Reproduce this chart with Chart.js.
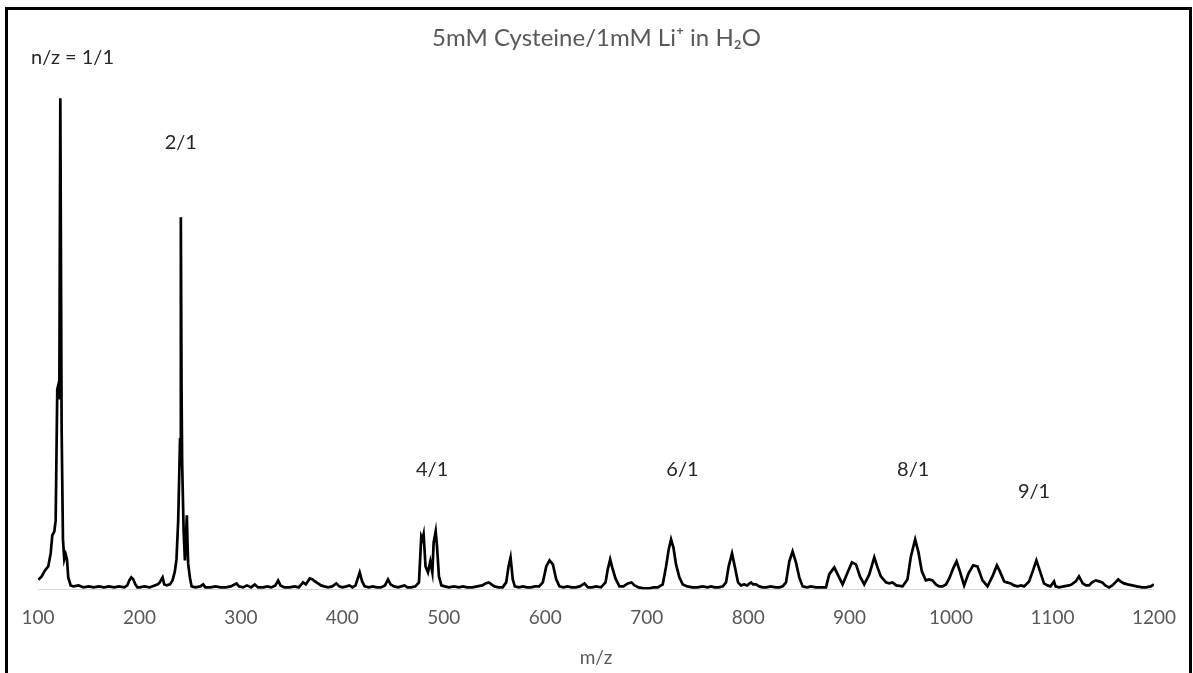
<!DOCTYPE html>
<html>
<head>
<meta charset="utf-8">
<script src="https://cdn.jsdelivr.net/npm/chart.js@4.4.1/dist/chart.umd.min.js"></script>
<style>
  html, body { margin: 0; padding: 0; background: #fff; overflow: hidden; }
  #wrap { position: relative; width: 1193px; height: 673px; }
  #frame { position: absolute; left: 5px; top: 7px; width: 1187px; height: 700px; box-sizing: border-box;
           border: 3px solid #000; border-bottom: none; pointer-events: none; }
</style>
</head>
<body>
<div id="wrap">
  <canvas id="spectrum" width="1193" height="673"></canvas>
  <div id="frame"></div>
</div>
<script>
// m/z values and intensities (a.u.), 10 per line
const mz = [
  100.3, 103.6, 106.9, 110.1, 112.5, 114.1, 116.1, 117.4, 119.0, 120.4,
  121.0, 122.0, 123.3, 124.6, 125.9, 127.3, 128.6, 129.8, 132.2, 135,
  140, 145, 150, 155, 160, 165, 170, 175, 180, 185,
  188, 190, 192, 194, 196, 198, 200, 205, 210, 215,
  218, 220, 222.8, 224.5, 227, 230, 232.6, 234.9, 236.5, 238.2,
  240.0, 240.8, 241.5, 242.1, 243.5, 244.8, 245.8, 246.7, 247.4, 248.0,
  249.7, 251.4, 255, 260, 262.8, 265, 270, 275, 280, 285,
  290, 295.7, 298, 302, 306, 310, 313.7, 317, 322, 326,
  330, 334, 336.7, 339, 343, 348, 353, 357, 361.3, 364,
  367.9, 370.8, 373, 376, 379, 382, 386, 390, 394, 397,
  400, 404, 407, 410, 413, 417.1, 419.5, 422, 426, 430,
  434, 438, 442, 445, 447.5, 451, 455, 458, 461.4, 464,
  468, 472, 475.5, 477.8, 479, 480.1, 482, 484.4, 486.7, 488.7,
  490, 492, 493.3, 495.2, 497.6, 501, 505, 510, 515, 518.8,
  523, 528, 533, 538, 541, 544.4, 547, 550, 554, 558,
  561.5, 563.8, 565.8, 568, 570, 574, 578, 582, 586, 590,
  594, 597.6, 601, 604.2, 607.5, 610.8, 614, 618, 622, 626,
  630, 634, 638.7, 642, 646, 650, 655, 659.4, 661.6, 664,
  666, 669.2, 673.1, 677, 681.3, 685, 688, 692, 697, 702.7,
  707, 711, 715.8, 719.1, 721.7, 724, 726.3, 728.9, 732.2, 735.5,
  740, 745, 750, 755, 760, 763.4, 767, 771, 775, 778.2,
  780.8, 784.1, 787.4, 790, 793, 796.2, 799, 802.8, 805, 807.7,
  811, 814.3, 818, 822, 827.4, 831, 834, 837.3, 840.6, 843.8,
  847.1, 850.4, 853.7, 858, 862, 866.8, 871, 876.7, 879.9, 882,
  884.9, 888.2, 893.1, 898, 902.3, 906.3, 910.2, 914.4, 919.4, 924.3,
  927.5, 930.8, 935.8, 939, 942.3, 946, 952.2, 957, 960.4, 964.6,
  967.9, 971.2, 975.1, 978.4, 981.7, 985, 988.3, 991.6, 995, 998.2,
  1002.1, 1005.4, 1008.7, 1012.9, 1017.2, 1021.8, 1026, 1031, 1035.9, 1040.8,
  1045.2, 1048.1, 1052.3, 1055, 1058.9, 1062, 1065.4, 1069, 1072, 1076.9,
  1080.8, 1084.1, 1087.4, 1091.6, 1095, 1098, 1101.5, 1103, 1106.4, 1111,
  1116.3, 1119, 1122.9, 1126.1, 1129.7, 1133, 1136, 1139, 1142.6, 1146,
  1149, 1152, 1155.7, 1159, 1162, 1164.8, 1167, 1170.4, 1174, 1178.6,
  1183, 1188.5, 1192, 1196.8, 1200
];
const intensity = [
  9.5, 13, 19, 23, 36, 54, 58, 69, 200, 206,
  190, 491, 160, 50, 30, 35, 30, 12, 4, 3,
  4, 2, 3, 2, 3, 2, 3, 2, 3, 2,
  4, 9, 12, 10, 5, 2, 2, 3, 2, 4,
  5, 7, 12, 5, 4, 5, 9, 18, 30, 69,
  150, 372, 200, 126, 60, 29, 50, 74, 45, 26,
  12, 3, 2, 3, 5, 2, 2, 3, 2, 2,
  3, 6, 3, 2, 4, 2, 5, 2, 2, 3,
  2, 4, 9, 4, 2, 2, 3, 2, 7, 5,
  11, 10, 8, 6, 4, 3, 2, 3, 6, 3,
  2, 3, 4, 2, 4, 17, 8, 3, 2, 3,
  2, 2, 4, 10, 5, 3, 2, 3, 4, 2,
  2, 3, 7, 53, 50, 55, 23, 17, 28, 17,
  47, 58, 43, 13, 4, 3, 2, 3, 2, 3,
  2, 2, 3, 4, 6, 7, 5, 3, 2, 2,
  7, 23, 32, 10, 3, 2, 3, 2, 2, 3,
  3, 7, 23, 29, 25, 10, 3, 2, 3, 2,
  2, 3, 6, 2, 2, 3, 2, 7, 20, 30,
  22, 11, 3, 3, 6, 7, 4, 2, 1, 1,
  2, 2, 5, 23, 40, 50, 42, 25, 12, 5,
  3, 2, 2, 3, 2, 3, 2, 2, 3, 7,
  23, 36, 20, 7, 4, 5, 4, 7, 5, 5,
  3, 2, 2, 3, 2, 2, 3, 7, 28, 38,
  27, 12, 3, 2, 3, 2, 2, 2, 15, 18,
  22, 15, 5, 17, 27, 25, 13, 5, 15, 32,
  22, 13, 7, 6, 7, 4, 3, 10, 33, 50,
  37, 18, 9, 10, 9, 5, 3, 3, 5, 11,
  21, 28, 18, 4, 16, 24, 23, 9, 3, 13,
  24, 18, 8, 7, 6, 4, 3, 4, 3, 8,
  19, 29, 19, 6, 4, 3, 8, 3, 2, 3,
  4, 5, 8, 13, 6, 4, 4, 7, 9, 8,
  7, 4, 2, 4, 7, 10, 8, 6, 5, 4,
  3, 2, 2, 3, 5
];

// cluster labels and where they sit (m/z, intensity level)
const peakLabels = ["n/z = 1/1", "2/1", "4/1", "6/1", "8/1", "9/1"];
const peakLabelMz = [134, 240.8, 488.5, 735.2, 962.7, 1081.8];
const peakLabelLevel = [531.5, 447, 119.5, 119.5, 119.5, 97.5];

Chart.defaults.font.family = "Lato, 'Open Sans', sans-serif";

const peakLabelPlugin = {
  id: "peakLabels",
  afterDraw(chart) {
    const { ctx, scales: { x, y } } = chart;
    ctx.save();
    ctx.font = "20px Lato, 'Open Sans', sans-serif";
    ctx.fillStyle = "#262626";
    ctx.textAlign = "center";
    ctx.textBaseline = "middle";
    peakLabels.forEach((t, i) => {
      ctx.fillText(t, x.getPixelForValue(peakLabelMz[i]), y.getPixelForValue(peakLabelLevel[i]));
    });
    ctx.restore();
  }
};

new Chart(document.getElementById("spectrum"), {
  type: "line",
  data: {
    datasets: [{
      label: "5mM Cysteine/1mM Li⁺ in H₂O",
      data: mz.map((m, i) => ({ x: m, y: intensity[i] })),
      borderColor: "#000",
      borderWidth: 2.7,
      pointRadius: 0,
      tension: 0,
      fill: false
    }]
  },
  options: {
    responsive: false,
    animation: false,
    devicePixelRatio: 1,
    layout: { padding: { left: 38, right: 38, top: 0, bottom: 4 } },
    plugins: {
      legend: { display: false },
      tooltip: { enabled: false },
      title: {
        display: true,
        text: "5mM Cysteine/1mM Li⁺ in H₂O",
        color: "#595959",
        font: { size: 24, weight: "normal" },
        padding: { top: 24, bottom: 7 }
      }
    },
    scales: {
      x: {
        type: "linear",
        min: 100,
        max: 1200,
        grid: { display: false, drawTicks: false },
        border: { display: true, color: "#d9d9d9", width: 1 },
        ticks: { stepSize: 100, color: "#595959", font: { size: 19 }, padding: 17, maxRotation: 0,
                 callback: v => String(v) },
        title: { display: true, text: "m/z", color: "#595959", font: { size: 19 }, padding: { top: 0, bottom: 0 } }
      },
      y: { display: false, min: 0, max: 529.5 }
    }
  },
  plugins: [peakLabelPlugin]
});
</script>
</body>
</html>
